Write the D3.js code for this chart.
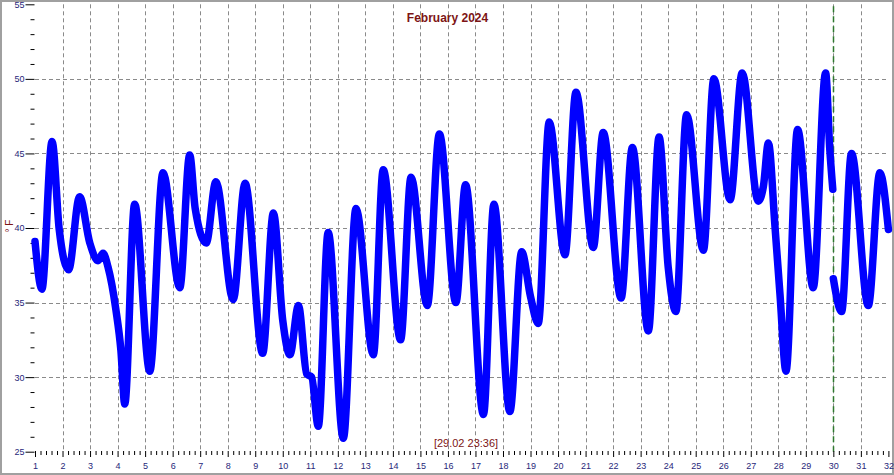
<!DOCTYPE html>
<html>
<head>
<meta charset="utf-8">
<script src="https://cdn.jsdelivr.net/npm/d3@7"></script>
<style>
html,body{margin:0;padding:0;background:#fff;}
svg{display:block;font-family:"Liberation Sans",Arial,sans-serif;}
</style>
</head>
<body>
<svg id="chart" width="894" height="475"></svg>
<script>
// ---- data ----
const title = "February 2024";
const stamp = "[29.02 23:36]";
const yLabel = "° F";
const xTickDays = d3.range(1, 33);          // 1..32
const yTickTemps = [25, 30, 35, 40, 45, 50, 55];
const gridDays = d3.range(2, 32);           // 2..31
const gridTemps = [30, 35, 40, 45, 50];
const markerDay = 30;

// segment 1 (main series)
const days1 = [1.00,1.25,1.62,1.88,2.22,2.62,2.99,3.29,3.47,3.65,3.94,4.12,4.26,4.62,5.17,5.65,6.26,6.62,6.82,7.22,7.57,8.20,8.63,9.27,9.66,10.00,10.26,10.57,10.87,11.05,11.29,11.65,12.20,12.66,13.29,13.65,14.28,14.66,15.25,15.69,16.29,16.64,17.29,17.67,18.25,18.68,19.00,19.28,19.68,20.25,20.65,21.28,21.64,22.29,22.70,23.28,23.67,24.00,24.28,24.67,25.28,25.66,26.25,26.69,27.27,27.46,27.64,27.88,28.06,28.28,28.70,29.27,29.72,29.87,29.98];
const temps1 = [39.1,35.9,45.8,39.9,37.2,42.1,39.0,37.8,38.3,37.4,34.5,31.8,28.2,41.6,30.4,43.7,36.0,44.9,41.3,39.0,43.1,35.2,43.0,31.6,41.0,33.8,31.5,34.8,30.2,30.0,26.7,39.7,25.9,41.3,31.5,43.9,32.5,43.4,34.8,46.3,35.0,42.9,27.5,41.6,27.7,38.4,35.4,33.6,47.1,38.2,49.1,38.7,46.4,35.3,45.4,33.1,46.1,37.4,34.4,47.6,38.5,50.0,41.9,50.4,41.8,42.8,45.7,40.1,35.6,30.4,46.6,36.0,50.4,45.3,42.6];
// segment 2
const days2 = [30.00,30.30,30.66,31.27,31.69,32.00];
const temps2 = [36.6,34.4,45.0,34.8,43.7,39.9];

// ---- drawing ----
const svg = d3.select("#chart");
const W = 894, H = 475;
const x = d3.scaleLinear().domain([1, 32]).range([35, 888.4]);
const y = d3.scaleLinear().domain([25, 55]).range([451.7, 4.3]);

const navy = "#27277a";
const darkRed = "#7d1515";

// frame
svg.append("rect").attr("x", 1).attr("y", 1).attr("width", W - 2).attr("height", H - 2)
  .attr("fill", "none").attr("stroke", "#a0a0a0").attr("stroke-width", 2);

// grid
const g = svg.append("g");
g.selectAll("line.vg").data(gridDays).join("line")
  .attr("x1", d => Math.round(x(d)) + 0.5).attr("x2", d => Math.round(x(d)) + 0.5)
  .attr("y1", y(55)).attr("y2", y(25))
  .attr("stroke", "#8a8a8a").attr("stroke-width", 1).attr("stroke-dasharray", "4,3");
g.selectAll("line.hg").data(gridTemps).join("line")
  .attr("x1", x(1)).attr("x2", x(32))
  .attr("y1", d => Math.round(y(d)) + 0.5).attr("y2", d => Math.round(y(d)) + 0.5)
  .attr("stroke", "#8a8a8a").attr("stroke-width", 1).attr("stroke-dasharray", "4,3");

// marker line (green dashed)
svg.append("line")
  .attr("x1", Math.round(x(markerDay)) + 0.5).attr("x2", Math.round(x(markerDay)) + 0.5)
  .attr("y1", y(55) + 2).attr("y2", y(25))
  .attr("stroke", "#2e7a2e").attr("stroke-width", 1.5).attr("stroke-dasharray", "6,4");

// y axis
const yMajor = d3.axisLeft(y).tickValues(yTickTemps).tickSize(9).tickPadding(1).tickFormat(d3.format("d"));
const yMinor = d3.axisLeft(y).tickValues(d3.range(25, 56).filter(v => v % 5 !== 0)).tickSize(4).tickFormat("");
const ya = svg.append("g").attr("transform", "translate(34.5,0)").call(yMajor);
const ym = svg.append("g").attr("transform", "translate(34.5,0)").call(yMinor);
[ya, ym].forEach(a => { a.select(".domain").remove(); a.selectAll("line").attr("stroke", "#000"); });
ya.selectAll("text").attr("fill", navy).style("font-size", "9px");

// x axis
const xMajor = d3.axisBottom(x).tickValues(xTickDays).tickSize(6).tickPadding(6).tickFormat(d3.format("d"));
const minorVals5 = [];
for (let d = 1; d < 32; d++) for (let q = 1; q < 5; q++) minorVals5.push(d + q / 5);
const xMinor = d3.axisBottom(x).tickValues(minorVals5).tickSize(4).tickFormat("");
const xa = svg.append("g").attr("transform", "translate(0,451)").call(xMajor);
const xm = svg.append("g").attr("transform", "translate(0,451)").call(xMinor);
[xa, xm].forEach(a => { a.select(".domain").remove(); a.selectAll("line").attr("stroke", "#000"); });
xa.selectAll("text").attr("fill", navy).style("font-size", "9px");

// y label
svg.append("text").attr("transform", "translate(13,226) rotate(-90)")
  .attr("text-anchor", "middle").attr("fill", darkRed).style("font-size", "10px").text(yLabel);

// title
svg.append("text").attr("x", 447.5).attr("y", 22).attr("text-anchor", "middle")
  .attr("fill", darkRed).style("font-size", "12px").style("font-weight", "bold").text(title);

// stamp
svg.append("text").attr("x", 466).attr("y", 447).attr("text-anchor", "middle")
  .attr("fill", darkRed).style("font-size", "11px").text(stamp);

// series
const line = d3.line().x(d => x(d[0])).y(d => y(d[1])).curve(d3.curveMonotoneX);
const seg1 = days1.map((d, i) => [d, temps1[i]]);
const seg2 = days2.map((d, i) => [d, temps2[i]]);
[seg1, seg2].forEach(s => {
  svg.append("path").attr("d", line(s)).attr("fill", "none")
    .attr("stroke", "#0000ff").attr("stroke-width", 7.5)
    .attr("stroke-linecap", "round").attr("stroke-linejoin", "round");
});
</script>
</body>
</html>
